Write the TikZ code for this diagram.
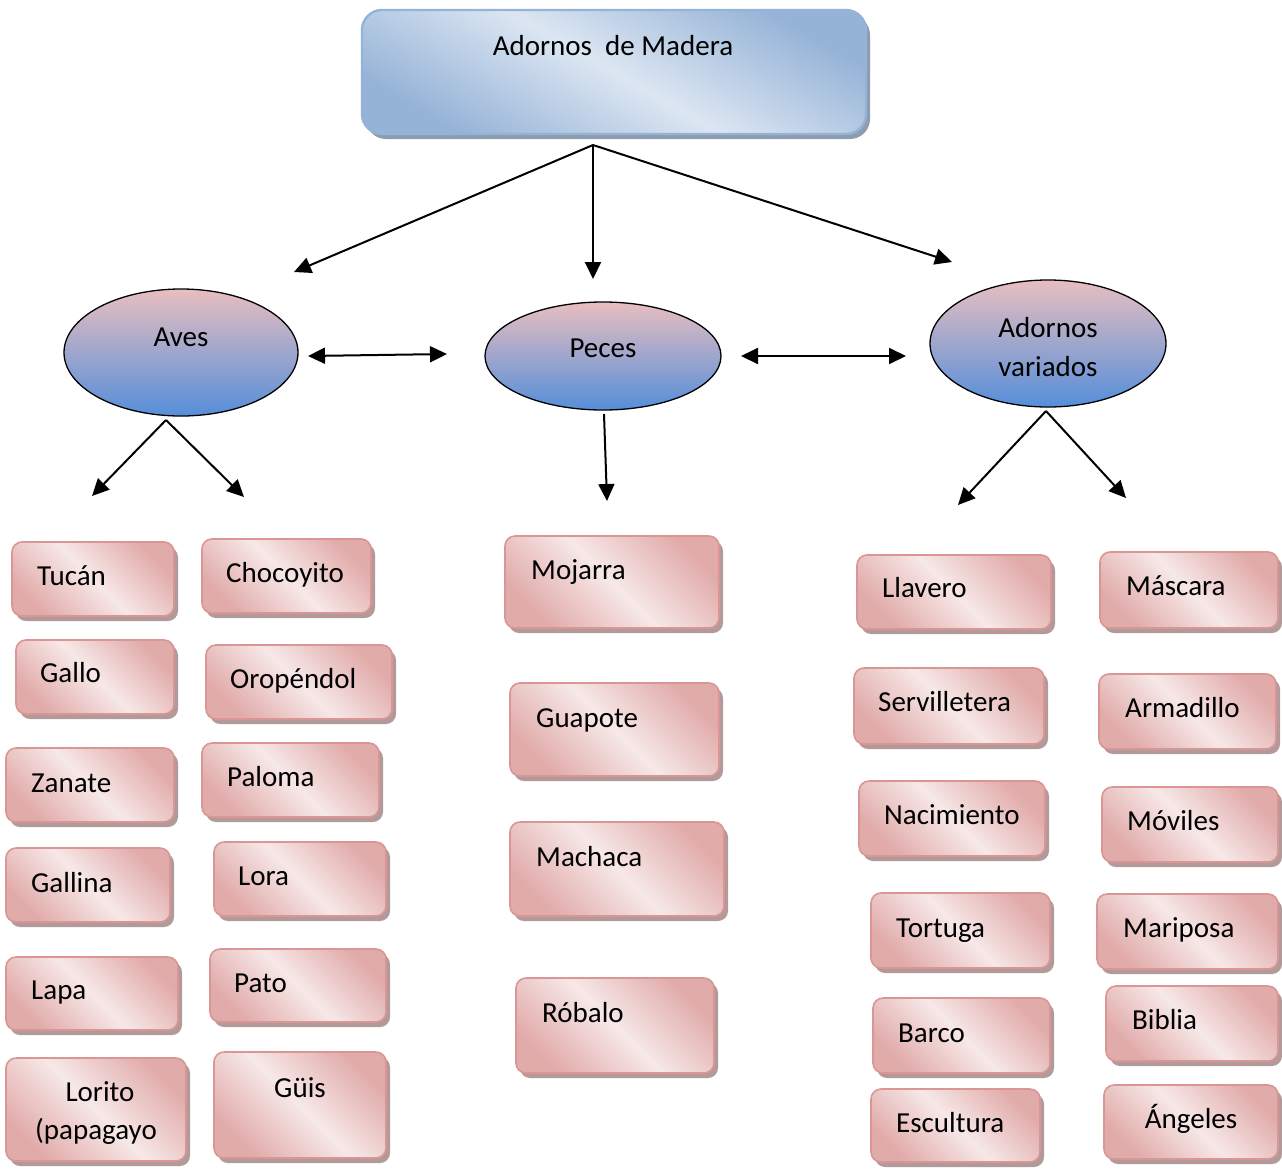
\documentclass[tikz,border=0pt]{standalone}
\usepackage{fontspec}
\setmainfont{Carlito}
\usetikzlibrary{arrows.meta,shadows,shapes.geometric}
\definecolor{pinkd}{HTML}{D99694}
\definecolor{pinkl}{HTML}{F7E8E8}
\definecolor{pinksh}{HTML}{B39A9A}
\definecolor{blued}{HTML}{95B3D7}
\definecolor{bluel}{HTML}{DCE6F2}
\definecolor{bluesh}{HTML}{8E9CAF}
\definecolor{elltop}{HTML}{E8BEC0}
\definecolor{ellbot}{HTML}{558ED9}
\tikzset{
  pinkbox/.style={draw=pinkd, line width=1.6pt, rounded corners=10pt,
    top color=pinkd!80!white, bottom color=pinkd!80!white, middle color=pinkl, shading angle=-45,
    drop shadow={shadow xshift=4pt, shadow yshift=-5pt, fill=pinksh, opacity=1},
    inner sep=0pt},
  topbox/.style={draw=blued, line width=2.4pt, rounded corners=20pt,
    top color=blued, bottom color=blued, middle color=bluel, shading angle=-30,
    drop shadow={shadow xshift=4pt, shadow yshift=-5pt, fill=bluesh, opacity=1},
    inner sep=0pt},
  ell/.style={ellipse, draw=black, line width=1.3pt, top color=elltop, bottom color=ellbot, inner sep=0pt},
  lbl/.style={anchor=base west, inner sep=0pt, font=\fontsize{29}{38.5}\selectfont},
  clbl/.style={anchor=base, inner sep=0pt, font=\fontsize{29}{38.5}\selectfont},
  arr/.style={line width=2pt, -{Triangle[length=17pt,width=16pt]}},
  darr/.style={line width=2pt, {Triangle[length=17pt,width=16pt]}-{Triangle[length=17pt,width=16pt]}}
}
% name, x1, y1, x2, y2, text x, text y(center), text
\newcommand\pbx[8]{%
  \node[pinkbox, minimum width={(#4-#2)*1pt}, minimum height={(#5-#3)*1pt}] (#1) at ({(#2+#4)/2},{(#3+#5)/2}) {};
  \node[lbl] (#1-t) at (#6,{#7+9}) {#8};}
\newcommand\pbc[8]{%
  \node[pinkbox, minimum width={(#4-#2)*1pt}, minimum height={(#5-#3)*1pt}] (#1) at ({(#2+#4)/2},{(#3+#5)/2}) {};
  \node[clbl] (#1-t) at (#6,{#7+9}) {#8};}
\begin{document}
\begin{tikzpicture}[x=1pt,y=-1pt]
\useasboundingbox (0,0) rectangle (1282,1168);
% top box
\node[topbox, minimum width=504pt, minimum height=124pt] (root) at (614,72) {};
\node[clbl] (root-t) at (613,55) {Adornos\ \ de Madera};
% ellipses
\node[ell, minimum width=234pt, minimum height=127pt] (aves) at (181,352.5) {};
\node[clbl] (aves-t) at (181,346) {Aves};
\node[ell, minimum width=236pt, minimum height=108pt] (peces) at (603,356) {};
\node[clbl] (peces-t) at (603,357) {Peces};
\node[ell, minimum width=236pt, minimum height=127pt] (var) at (1048,343.5) {};
\node[anchor=center, inner sep=0pt, align=center, font=\fontsize{29}{38.5}\selectfont] (var-t) at (1048,347) {Adornos\\variados};
% coordinates for connectors
\coordinate (split) at (593,145);
\coordinate (toA) at (294,272);
\coordinate (toP) at (593,279);
\coordinate (toV) at (952,262);
\coordinate (ap1) at (308,356);
\coordinate (ap2) at (447,354);
\coordinate (pv1) at (741,356);
\coordinate (pv2) at (906,356);
\coordinate (asplit) at (166,420);
\coordinate (aL) at (92,496);
\coordinate (aR) at (244,497);
\coordinate (ps) at (604,414);
\coordinate (pe) at (607,501);
\coordinate (vsplit) at (1046,411);
\coordinate (vL) at (958,505);
\coordinate (vR) at (1126,498);
\draw[arr] (split) -- (toA);
\draw[arr] (split) -- (toP);
\draw[arr] (split) -- (toV);
\draw[darr] (ap1) -- (ap2);
\draw[darr] (pv1) -- (pv2);
\draw[arr] (asplit) -- (aL);
\draw[arr] (asplit) -- (aR);
\draw[arr] (ps) -- (pe);
\draw[arr] (vsplit) -- (vL);
\draw[arr] (vsplit) -- (vR);
% Aves column 1
\pbx{tucan}{12}{542}{174}{616}{37}{576}{Tucán}
\pbx{gallo}{16}{640}{174}{714}{40}{673}{Gallo}
\pbx{zanate}{6}{748}{174}{822}{31}{783}{Zanate}
\pbx{gallina}{6}{848}{170}{922}{31}{883}{Gallina}
\pbx{lapa}{6}{957}{178}{1030}{31}{990}{Lapa}
\node[pinkbox, minimum width=180pt, minimum height=103pt] (lorito) at (96,1109.5) {};
\node[anchor=center, inner sep=0pt, align=center, font=\fontsize{29}{38.5}\selectfont] (lorito-t) at (96,1113) {\hspace*{8pt}Lorito\\(papagayo};
% Aves column 2
\pbx{chocoyito}{202}{539}{371}{613}{226}{573}{Chocoyito}
\pbx{oropendol}{206}{645}{392}{719}{230}{679}{Oropéndol}
\pbx{paloma}{202}{743}{379}{817}{227}{777}{Paloma}
\pbx{lora}{214}{842}{386}{916}{238}{876}{Lora}
\pbx{pato}{210}{949}{386}{1022}{234}{983}{Pato}
\pbc{guis}{214}{1052}{386}{1158}{300}{1088}{Güis}
% Peces
\pbx{mojarra}{505}{536}{719}{628}{531}{570}{Mojarra}
\pbx{guapote}{510}{683}{719}{776}{536}{718}{Guapote}
\pbx{machaca}{510}{822}{724}{916}{536}{857}{Machaca}
\pbx{robalo}{516}{978}{714}{1073}{542}{1013}{Róbalo}
% Variados column 1
\pbx{llavero}{857}{555}{1051}{629}{882}{588}{Llavero}
\pbx{servilletera}{854}{668}{1044}{744}{878}{702}{Servilletera}
\pbx{nacimiento}{859}{781}{1045}{856}{884}{815}{Nacimiento}
\pbx{tortuga}{871}{893}{1050}{968}{896}{928}{Tortuga}
\pbx{barco}{873}{998}{1050}{1073}{898}{1033}{Barco}
\pbx{escultura}{871}{1089}{1040}{1162}{896}{1123}{Escultura}
% Variados column 2
\pbx{mascara}{1100}{552}{1278}{628}{1126}{586}{Máscara}
\pbx{armadillo}{1099}{674}{1276}{749}{1125}{708}{Armadillo}
\pbx{moviles}{1102}{787}{1278}{862}{1127}{821}{Móviles}
\pbx{mariposa}{1097}{894}{1278}{969}{1123}{928}{Mariposa}
\pbx{biblia}{1106}{986}{1278}{1061}{1132}{1020}{Biblia}
\pbc{angeles}{1104}{1085}{1278}{1159}{1191}{1119}{Ángeles}
\end{tikzpicture}
\end{document}
